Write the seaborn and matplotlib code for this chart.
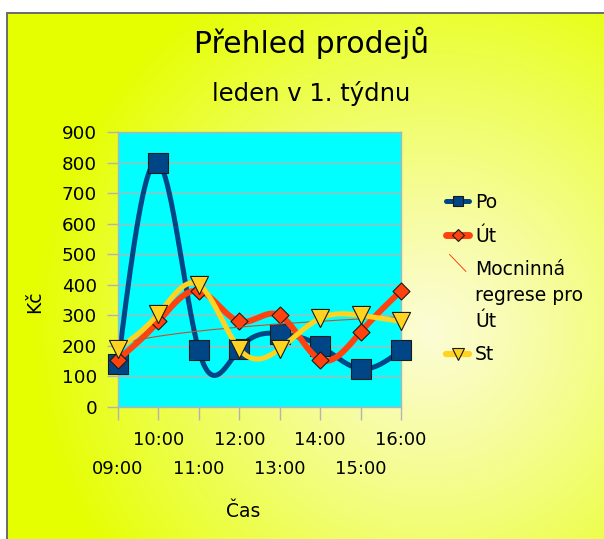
import numpy as np
import pandas as pd
import matplotlib
matplotlib.use("Agg")
import matplotlib.pyplot as plt
import seaborn as sns
from matplotlib.lines import Line2D
from matplotlib.legend_handler import HandlerBase

# ---------------- data ----------------
times = ["09:00", "10:00", "11:00", "12:00", "13:00", "14:00", "15:00", "16:00"]
po = [140, 800, 185, 190, 240, 200, 125, 185]
ut = [155, 280, 380, 280, 300, 155, 245, 380]
st = [190, 305, 400, 190, 190, 290, 300, 280]
series_names = ["Po", "Út", "Mocninná\nregrese pro\nÚt", "St"]
title = "Přehled prodejů"
subtitle = "leden v 1. týdnu"
xlabel = "Čas"
ylabel = "Kč"

C_PO = "#004586"
C_UT = "#ff420e"
C_ST = "#ffd320"
EDGE = "#1a1a1a"
GRID = "#b3b3b3"

sns.set_style("white")
plt.rcParams["font.family"] = ["DejaVu Sans"]
plt.rcParams["text.color"] = "black"

W, H = 604, 539
fig = plt.figure(figsize=(W / 100, H / 100), dpi=100)

# ---------- background (radial gradient + frame) ----------
bg = fig.add_axes([0, 0, 1, 1], zorder=-10)
yy, xx = np.mgrid[0:H, 0:W]
d = np.hypot(xx - 430, yy - 330)
t = np.clip(d / 400.0, 0, 1) ** 1.15
cen = np.array([252, 252, 212]) / 255
edg = np.array([229, 255, 0]) / 255
img = cen + (edg - cen) * t[..., None]
img[:12, :] = 1.0
img[:, :6] = 1.0
gray = np.array([110, 110, 110]) / 255
img[12:14, 6:] = gray
img[12:, 6:8] = gray
bg.imshow(img, interpolation="nearest", aspect="auto", extent=(0, W, H, 0))
bg.set_xlim(0, W)
bg.set_ylim(H, 0)
bg.axis("off")

# ---------- main axes ----------
ax = fig.add_axes([118 / W, 1 - 407 / H, 283 / W, 275 / H])
ax.set_facecolor("#00ffff")


def natural_cubic(x, y, xs):
    x = np.asarray(x, float)
    y = np.asarray(y, float)
    n = len(x)
    h = np.diff(x)
    A = np.zeros((n, n))
    b = np.zeros(n)
    A[0, 0] = 1
    A[-1, -1] = 1
    for i in range(1, n - 1):
        A[i, i - 1] = h[i - 1]
        A[i, i] = 2 * (h[i - 1] + h[i])
        A[i, i + 1] = h[i]
        b[i] = 6 * ((y[i + 1] - y[i]) / h[i] - (y[i] - y[i - 1]) / h[i - 1])
    M = np.linalg.solve(A, b)
    idx = np.clip(np.searchsorted(x, xs) - 1, 0, n - 2)
    x0 = x[idx]
    x1 = x[idx + 1]
    hh = x1 - x0
    a = (x1 - xs) / hh
    bb = (xs - x0) / hh
    return a * y[idx] + bb * y[idx + 1] + ((a ** 3 - a) * M[idx] + (bb ** 3 - bb) * M[idx + 1]) * hh ** 2 / 6


pos = np.arange(len(times))
xs = np.linspace(0, len(times) - 1, 400)

# Po
sns.lineplot(x=xs, y=natural_cubic(pos, po, xs), ax=ax, color=C_PO, linewidth=3.6,
             zorder=2, legend=False, sort=False, estimator=None)
sns.scatterplot(x=pos, y=po, ax=ax, marker="s", s=200, color=C_PO, edgecolor=EDGE,
                linewidth=0.8, zorder=3, legend=False, clip_on=False)
# Út
sns.lineplot(x=xs, y=natural_cubic(pos, ut, xs), ax=ax, color=C_UT, linewidth=4.3,
             zorder=4, legend=False, sort=False, estimator=None)
sns.scatterplot(x=pos, y=ut, ax=ax, marker="D", s=75, color=C_UT, edgecolor=EDGE,
                linewidth=0.8, zorder=5, legend=False, clip_on=False)
# power regression for Út
xt = pos + 1.0
coef = np.polyfit(np.log(xt), np.log(ut), 1)
trend = np.exp(coef[1]) * (xs + 1.0) ** coef[0]
sns.lineplot(x=xs, y=trend, ax=ax, color="#c8502a", linewidth=0.8, zorder=5.5,
             legend=False, sort=False, estimator=None)
# St
sns.lineplot(x=xs, y=natural_cubic(pos, st, xs), ax=ax, color=C_ST, linewidth=3.7,
             zorder=6, legend=False, sort=False, estimator=None)
sns.scatterplot(x=pos, y=st, ax=ax, marker="v", s=170, color=C_ST, edgecolor=EDGE,
                linewidth=0.8, zorder=7, legend=False, clip_on=False)

ax.set_xlim(0, len(times) - 1)
ax.set_ylim(0, 900)
ax.set_xlabel("")
ax.set_ylabel("")

ax.set_yticks(np.arange(0, 1000, 100))
ax.tick_params(axis="y", which="major", length=8, width=1, color=GRID, pad=7,
               labelsize=13.2, direction="out", left=True, labelcolor="black")
ax.set_xticks(pos[0::2])
ax.set_xticklabels(times[0::2])
ax.set_xticks(pos[1::2], minor=True)
ax.set_xticklabels(times[1::2], minor=True)
ax.tick_params(axis="x", which="both", length=9, width=1, color=GRID,
               labelsize=13, direction="out", bottom=True, labelcolor="black")
ax.tick_params(axis="x", which="major", pad=29)
ax.tick_params(axis="x", which="minor", pad=8.5)

ax.yaxis.grid(True, color=GRID, linewidth=1)
ax.xaxis.grid(False)
ax.set_axisbelow(True)
for sp in ax.spines.values():
    sp.set_visible(True)
    sp.set_color(GRID)
    sp.set_linewidth(1)

# ---------- texts ----------
fig.text(312 / W, 1 - 53 / H, title, ha="center", va="baseline", fontsize=21.5, color="black")
fig.text(311 / W, 1 - 101 / H, subtitle, ha="center", va="baseline", fontsize=17.5, color="black")
fig.text(35 / W, 1 - 302 / H, ylabel, ha="center", va="center", rotation=90, fontsize=13.5,
         color="black")
fig.text(243 / W, 1 - 517 / H, xlabel, ha="center", va="baseline", fontsize=13.5, color="black")


# ---------- legend ----------
class DiagHandler(HandlerBase):
    def create_artists(self, legend, orig_handle, xdescent, ydescent, width, height,
                       fontsize, trans):
        x0 = -xdescent
        y0 = -ydescent
        ln = Line2D([x0 + 0.15 * width, x0 + 0.85 * width],
                    [y0 + height * 3.7, y0 + height * 2.4],
                    color=orig_handle.get_color(), linewidth=orig_handle.get_linewidth(),
                    transform=trans)
        return [ln]


h_po = Line2D([], [], color=C_PO, lw=3.6, marker="s", markersize=7.5,
              markerfacecolor=C_PO, markeredgecolor=EDGE, markeredgewidth=0.8)
h_ut = Line2D([], [], color=C_UT, lw=5, marker="D", markersize=6,
              markerfacecolor=C_UT, markeredgecolor=EDGE, markeredgewidth=0.8)
h_tr = Line2D([], [], color="#ff420e", lw=0.7)
h_st = Line2D([], [], color=C_ST, lw=4.5, marker="v", markersize=8.5,
              markerfacecolor=C_ST, markeredgecolor=EDGE, markeredgewidth=0.8)

leg = fig.legend(handles=[h_po, h_ut, h_tr, h_st], labels=series_names,
                 loc="upper left", bbox_to_anchor=(446 / W, 1 - 193 / H),
                 frameon=False, fontsize=13.5, handlelength=1.25, handletextpad=0.3,
                 labelspacing=0.78, borderpad=0, borderaxespad=0,
                 handler_map={h_tr: DiagHandler()})
for txt in leg.get_texts():
    txt.set_linespacing(1.45)
    txt.set_color("black")

fig.savefig("out.png", dpi=100)
